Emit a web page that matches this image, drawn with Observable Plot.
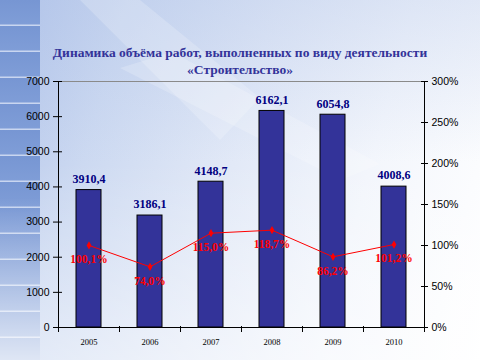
<!DOCTYPE html>
<html>
<head>
<meta charset="utf-8">
<script src="https://cdn.jsdelivr.net/npm/d3@7"></script>
<script src="https://cdn.jsdelivr.net/npm/@observablehq/plot@0.6"></script>
<style>
  html, body { margin: 0; padding: 0; }
  #wrap {
    position: relative; width: 480px; height: 360px; overflow: hidden;
    background: linear-gradient(105deg, #b3c5ea 0%, #ccd9f1 22%, #e2e9f7 48%, #f3f6fc 72%, #ffffff 100%);
  }
  #strip {
    position: absolute; left: 0; top: 0; width: 40px; height: 360px;
    background:
      linear-gradient(to bottom, rgba(255,255,255,0) 0%, rgba(255,255,255,0) 55%, rgba(255,255,255,0.75) 100%),
      repeating-linear-gradient(to bottom, #7796d3 0px, #7f9dd7 24px, #c9d6f0 25px, #c9d6f0 26px);
  }
  #shade {
    position: absolute; left: 40px; top: 0; width: 440px; height: 360px;
    background: linear-gradient(to bottom, rgba(170,190,230,0.3) 0%, rgba(255,255,255,0) 45%, rgba(255,255,255,0.45) 100%);
  }
  .shard { position: absolute; background: rgba(255,255,255,0.2); }
  #title {
    position: absolute; left: 0; top: 44px; width: 480px; text-align: center;
    font-family: "Liberation Serif", "DejaVu Serif", serif; font-weight: bold;
    font-size: 13.5px; line-height: 17px; color: #333399;
  }
  #chart { position: absolute; left: 0; top: 0; }
</style>
</head>
<body>
<div id="wrap">
  <div id="strip"></div>
  <div id="shade"></div>
  <div class="shard" style="left:60px;top:0;width:200px;height:140px;clip-path:polygon(10% 0,40% 0,100% 70%,80% 100%);"></div>
  <div class="shard" style="left:120px;top:20px;width:260px;height:160px;clip-path:polygon(0 30%,20% 20%,100% 90%,85% 100%);"></div>
  <div id="title">Динамика объёма работ, выполненных по виду деятельности<br>«Строительство»</div>
  <div id="chart"></div>
</div>
<script>
const years = ["2005", "2006", "2007", "2008", "2009", "2010"];
const volumes = [3910.4, 3186.1, 4148.7, 6162.1, 6054.8, 4008.6];
const growth = [100.1, 74.0, 115.0, 118.7, 86.2, 101.2];
const leftTicks = [0, 1000, 2000, 3000, 4000, 5000, 6000, 7000];
const rightTicks = [0, 50, 100, 150, 200, 250, 300];
const Y_MAX = 7000;
const PCT_MAX = 300;

const toY = p => p * Y_MAX / PCT_MAX;
const fmt = v => v.toFixed(1).replace(".", ",");
const data = years.map((y, i) => ({ year: y, volume: volumes[i], growth: growth[i], gy: toY(growth[i]) }));

const serif = "Liberation Serif, DejaVu Serif, serif";
const sans = "Liberation Sans, Arial, sans-serif";

const chart = Plot.plot({
  width: 480,
  height: 360,
  marginTop: 81,
  marginBottom: 33,
  marginLeft: 58,
  marginRight: 56,
  style: { background: "transparent", overflow: "visible" },
  x: { domain: years, paddingInner: 0.59, paddingOuter: 0.295, axis: null },
  y: { domain: [0, Y_MAX], axis: null },
  marks: [
    Plot.ruleY([Y_MAX], { stroke: "#8a8a8a", strokeWidth: 1 }),
    Plot.barY(data, { x: "year", y: "volume", fill: "#333399", stroke: "#000", strokeWidth: 1 }),
    Plot.frame({ anchor: "left", stroke: "#000" }),
    Plot.frame({ anchor: "right", stroke: "#000" }),
    Plot.frame({ anchor: "bottom", stroke: "#000" }),
    Plot.axisY(leftTicks, { anchor: "left", tickSize: 9, dx: 4, tickPadding: 4, fontSize: 10.5, fontFamily: sans, tickFormat: d => String(d), stroke: "#000", strokeOpacity: 1 }),
    Plot.axisY(rightTicks.map(toY), { anchor: "right", tickSize: 7, dx: -4, tickPadding: 4, fontSize: 10.5, fontFamily: sans, tickFormat: d => Math.round(d * PCT_MAX / Y_MAX) + "%", stroke: "#000", strokeOpacity: 1 }),
    Plot.ruleX(years, { x: d => d, dx: -30.5, y1: 0, y2: 0, insetTop: -1, insetBottom: -5, stroke: "#000" }),
    Plot.ruleX([years[years.length - 1]], { x: d => d, dx: 30.5, y1: 0, y2: 0, insetTop: -1, insetBottom: -5, stroke: "#000" }),
    Plot.text(years, { x: d => d, y: 0, text: d => d, dy: 15, fontSize: 8.5, fontFamily: serif, fill: "#000" }),
    Plot.text(data, { x: "year", y: "volume", text: d => fmt(d.volume), dy: -11, fontSize: 12, fontWeight: "bold", fontFamily: serif, fill: "#000080" }),
    Plot.line(data, { x: "year", y: "gy", stroke: "#ff0000", strokeWidth: 1 }),
    Plot.dot(data, { x: "year", y: "gy", symbol: "diamond", r: 2.5, fill: "#ff0000", stroke: "none" }),
    Plot.text(data, { x: "year", y: "gy", text: d => fmt(d.growth) + "%", dy: 14, fontSize: 11.5, fontWeight: "bold", fontFamily: serif, fill: "#ff0000" })
  ]
});
document.getElementById("chart").appendChild(chart);
</script>
</body>
</html>
